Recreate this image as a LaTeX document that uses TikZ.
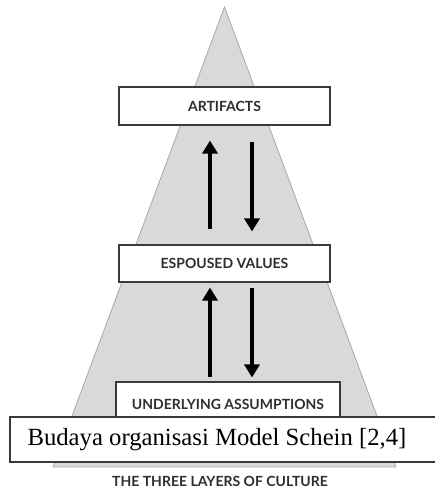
\documentclass[tikz,border=0pt]{standalone}
\usepackage{fontspec}
\setmainfont{Liberation Serif}
\newfontfamily\labelfont{Lato}[BoldFont={Lato Bold}]
\usetikzlibrary{arrows.meta,calc}
\definecolor{trifill}{HTML}{D9D9D9}
\definecolor{triline}{HTML}{A8A8A8}
\definecolor{boxline}{HTML}{3A3A3A}
\definecolor{labelcol}{HTML}{2E2E2E}
\tikzset{
  labeltext/.style={font=\labelfont\bfseries\fontsize{14}{16}\selectfont, text=labelcol},
  layerbox/.style={draw=boxline, line width=1.1pt, fill=white, inner sep=0pt, labeltext},
  flowarrow/.style={line width=4pt, -{Triangle[width=15pt,length=13pt]}},
  captionbox/.style={draw=boxline, line width=1.1pt, fill=white, inner sep=0pt},
}
\begin{document}
\begin{tikzpicture}[x=1pt,y=-1pt]
\useasboundingbox (0,0) rectangle (435,495);
% triangle
\path[fill=trifill, draw=triline, line width=0.8pt] (224.5,7) -- (396,467) -- (53,467) -- cycle;
% boxes
\node[layerbox, minimum width=211pt, minimum height=38pt] (art) at (224.5,106) {ARTIFACTS};
\node[layerbox, minimum width=211pt, minimum height=37pt] (esp) at (224.5,263.5) {ESPOUSED VALUES};
\node[layerbox, minimum width=224pt, minimum height=44pt] (und) at (228,404) {UNDERLYING ASSUMPTIONS};
% arrow columns
\coordinate (upx) at (210,0);
\coordinate (downx) at (252,0);
% arrows
\draw[flowarrow, shorten <=15pt, shorten >=15pt] (esp.north -| upx) -- (art.south -| upx);
\draw[flowarrow, shorten <=16pt, shorten >=13pt] (art.south -| downx) -- (esp.north -| downx);
\draw[flowarrow, shorten <=4pt, shorten >=5pt] (und.north -| upx) -- (esp.south -| upx);
\draw[flowarrow, shorten <=5pt, shorten >=4pt] (esp.south -| downx) -- (und.north -| downx);
% caption box
\node[captionbox, minimum width=426pt, minimum height=45pt] (bud) at (223,439.5) {};
\node[font=\fontsize{24.7}{28}\selectfont, inner sep=0pt] (budtext) at (217,440) {Budaya organisasi Model Schein [2,4]};
% caption
\node[labeltext, inner sep=0pt] (cap) at (220,481) {THE THREE LAYERS OF CULTURE};
\end{tikzpicture}
\end{document}
